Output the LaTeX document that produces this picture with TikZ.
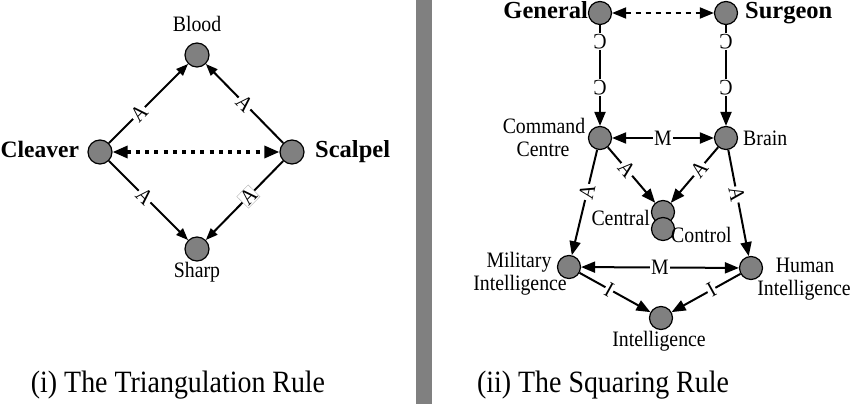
\documentclass[tikz,border=0pt]{standalone}
\usepackage{fontspec}
\setmainfont{Liberation Serif}
\newfontfamily\condfont{Liberation Serif}[FakeStretch=0.9]
\usetikzlibrary{arrows.meta}
\begin{document}
\begin{tikzpicture}[x=1pt,y=-1pt,
  dotA/.style={circle,draw,fill=black!50,line width=1.2pt,minimum size=24pt,inner sep=0pt},
  dotB/.style={circle,draw,fill=black!50,line width=1.2pt,minimum size=23pt,inner sep=0pt},
  lab/.style={font=\condfont\fontsize{22}{24}\selectfont,inner sep=0pt,anchor=base},
  blab/.style={font=\fontsize{24.5}{26}\selectfont\bfseries,inner sep=0pt},
  captext/.style={font=\condfont\fontsize{31}{33}\selectfont,inner sep=0pt,anchor=base},
  tipA/.style={-{Triangle[length=12pt,width=9pt]}},
  tipB/.style={-{Triangle[length=14pt,width=11pt]}},
  dtipA/.style={{Triangle[length=15pt,width=12pt]}-{Triangle[length=15pt,width=12pt]}},
  dtipB/.style={{Triangle[length=14pt,width=11pt]}-{Triangle[length=14pt,width=11pt]}},
  rel/.style={line width=2pt},
  elab/.style={font=\condfont\fontsize{22}{24}\selectfont,fill=white,inner sep=1pt,sloped},
]
\useasboundingbox (0,0) rectangle (852,412);
\fill[black!50] (416,0) rectangle (432,404);

% ---- left panel ----
\node[dotA] (blood) at (197,55) {};
\node[dotA] (cleaver) at (100,152) {};
\node[dotA] (scalpel) at (292,152) {};
\node[dotA] (sharp) at (197,249) {};
\node[lab] (lblood) at (197,31.5) {Blood};
\node[lab] (lsharp) at (197,277) {Sharp};
\node[blab,anchor=base west,font=\fontsize{23.5}{26}\selectfont\bfseries] (lcleaver) at (0.5,157.5) {Cleaver};
\node[blab,anchor=base west] (lscalpel) at (315,157.5) {Scalpel};

\draw[rel,tipA] (cleaver) -- node[elab,pos=0.38] {A} (blood);
\draw[rel,tipA] (scalpel) -- node[elab,pos=0.5] {A} (blood);
\draw[rel,tipA] (cleaver) -- node[elab,pos=0.45] {A} (sharp);
\draw[rel,tipA] (scalpel) -- node[elab,pos=0.45,draw=black!30,line width=0.4pt] {A} (sharp);
\draw[line width=3.2pt,dash pattern=on 4pt off 5.2pt,dtipA] (cleaver) -- (scalpel);

\node[captext] (cap1) at (178,392) {(i) The Triangulation Rule};

% ---- right panel ----
\node[dotB] (general) at (600,13) {};
\node[dotB] (surgeon) at (726,13) {};
\node[dotB] (cc) at (600,138) {};
\node[dotB] (brain) at (726,138) {};
\node[dotB] (central) at (663,212) {};
\node[dotB] (control) at (663,229) {};
\node[dotB] (mil) at (569,267) {};
\node[dotB] (hum) at (751,268) {};
\node[dotB] (intel) at (661,318) {};

\node[blab,anchor=base east] (lgeneral) at (588,18.5) {General};
\node[blab,anchor=base west] (lsurgeon) at (745,18.5) {Surgeon};
\node[lab] (lcc1) at (544,133) {Command};
\node[lab] (lcc2) at (543,157) {Centre};
\node[lab,anchor=base west] (lbrain) at (743,146) {Brain};
\node[lab,anchor=base east] (lcentral) at (650,225) {Central};
\node[lab,anchor=base west] (lcontrol) at (671,242) {Control};
\node[lab] (lmil1) at (519,267) {Military};
\node[lab] (lmil2) at (520,290) {Intelligence};
\node[lab] (lhum1) at (805,272) {Human};
\node[lab] (lhum2) at (804,295) {Intelligence};
\node[lab] (lintel) at (659,346) {Intelligence};

\draw[line width=1.8pt,dash pattern=on 5pt off 5pt,dtipB] (general) -- (surgeon);
\draw[rel,tipB] (general) -- node[elab,pos=0.16,rotate=-90] {C} node[elab,pos=0.62,rotate=-90] {C} (cc);
\draw[rel,tipB] (surgeon) -- node[elab,pos=0.16,rotate=-90] {C} node[elab,pos=0.62,rotate=-90] {C} (brain);
\draw[rel,dtipB] (cc) -- node[fill=white,inner sep=1pt,font=\condfont\fontsize{22}{24}\selectfont] {M} (brain);
\draw[rel,tipB] (cc) -- node[elab,pos=0.4] {A} (central);
\draw[rel,tipB] (brain) -- node[elab,pos=0.4] {A} (central);
\draw[rel,tipB] (cc) -- node[elab,pos=0.4] {A} (mil);
\draw[rel,tipB] (brain) -- node[elab,pos=0.42] {A} (hum);
\draw[rel,dtipB] (mil) -- node[fill=white,inner sep=1pt,font=\condfont\fontsize{22}{24}\selectfont] {M} (hum);
\draw[rel,tipB] (mil) -- node[elab,pos=0.42] {I} (intel);
\draw[rel,tipB] (hum) -- node[elab,pos=0.42] {I} (intel);

\node[captext] (cap2) at (603,392) {(ii) The Squaring Rule};
\end{tikzpicture}
\end{document}
